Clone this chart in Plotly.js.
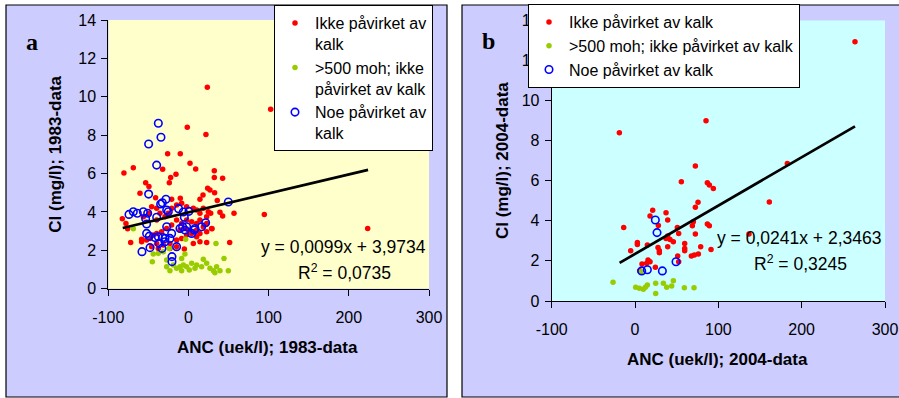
<!DOCTYPE html>
<html>
<head>
<meta charset="utf-8">
<script src="https://cdn.plot.ly/plotly-3.0.1.min.js"></script>
<style>html,body{margin:0;padding:0;background:#fff;}#chart{width:899px;height:398px;}</style>
</head>
<body>
<div id="chart"></div>
<script>
// ---------- Panel a (1983-data) ----------
var aRedX = [23.5,102.5,-1.5,21.8,-26,-10.2,-68.8,-80.5,-32.2,1.9,9,-15.6,32.2,32.2,42.6,-22.2,-53.4,-49.3,-23.9,23.9,26.8,32.6,-60.5,18.1,35.9,14.3,-41,-21,-10.2,39.3,42.6,56.8,94.6,223.5,51.4,-82.5,-78,-75.9,-72.1,-58.4,-5.2,22.7,29.3,
  -45.9,-39.7,-48.9,-56.3,-39.7,-35.6,-29.3,-25.2,-21,-14.8,-8.5,-2.3,6,10.2,14.3,18.5,24.7,27.7,22.7,14.3,10.2,4,-2.3,-8.5,-14.8,-21,-27.2,-33.5,-39.7,-43.9,-48,-52.2,-58.4,-39.7,-31.4,-23.1,-14.8,-8.5,-2.3,4,10.2,14.3,22.7,28.9,6,14.3,-14.8,-23.1,-37.6,-45.9,-10.6,-4.4,-0.2,22.7,18.5,10.2];
var aRedY = [10.49,9.35,8.41,8.04,7.03,7.03,6.3,6.03,6.22,6.53,6.24,5.96,6.15,5.8,5.75,5.8,5.52,5.32,5.52,5.23,5.14,5.0,4.97,4.88,4.59,4.66,4.74,4.66,4.71,3.98,3.79,3.93,3.86,3.14,2.41,3.65,3.4,3.13,2.41,2.57,2.07,2.41,3.13,
  4.27,4.19,3.93,3.75,3.58,3.93,3.75,3.93,4.19,4.36,4.45,4.27,4.19,4.1,3.93,4.19,4.01,3.93,3.75,3.58,3.4,3.49,3.58,3.4,3.58,3.32,3.14,2.97,2.88,2.8,2.62,2.54,2.45,2.36,2.28,2.36,2.54,2.62,2.8,2.88,2.71,2.88,2.97,3.14,2.36,2.45,2.19,2.1,2.1,2.19,3.06,3.14,3.06,3.4,3.23,3.06];
var aGreenX = [-68.8,-43.9,-37.6,-31.4,-45.1,-27.2,-23.1,-18.9,-14.8,-10.6,-8.5,-6.4,-2.3,-8.5,-4.4,-3.5,4,10.2,16.4,18.5,22.7,26.8,31,35.1,39.3,44.3,49.7,34.3,-24,33,-27.2,1,8.1];
var aGreenY = [3.13,1.81,1.84,1.93,1.41,1.15,0.94,1.23,1.06,1.15,0.94,1.23,1.15,1.58,1.81,2.57,1.32,1.23,1.15,1.53,1.32,1.06,0.94,1.15,0.94,1.58,0.94,2.36,2.1,0.83,1.49,0.97,1.06];
var aBlueX = [-37.6,-34.3,-49.7,-39.7,-49.7,49.7,-28.1,-34.7,-32.6,-27.2,-25.2,-39.7,-12.3,-6.4,0.6,-5.2,-74.2,-68.8,-63.8,-56.3,-50.9,-53.4,-52.2,-52.2,-48.9,-41.8,-37.6,-32.2,-29.3,-27.2,-36.4,-29.3,-33.1,-23.1,-21,-14.8,-20.6,-20.6,-58,-48,-10.6,-7.3,-4.4,-2.3,4,8.1,16.4,21.4,7.3];
var aBlueY = [8.62,7.89,7.54,6.44,4.93,4.52,4.66,4.41,4.48,4.1,4.01,3.72,4.17,4.0,4.03,3.72,3.87,4.01,3.93,4.01,3.93,3.65,3.37,2.88,2.74,2.67,2.71,2.67,2.62,3.23,2.36,2.45,2.1,2.62,2.88,2.19,1.67,1.41,1.93,2.14,3.14,3.23,3.06,3.23,2.88,3.14,3.23,3.44,3.06];
var aTrendX = [-82, 224];
var aTrendCoef = [0.0099, 3.9734];   // slope, intercept
var aEquation = "y = 0,0099x + 3,9734";
var aR2 = "R<sup>2</sup> = 0,0735";

// ---------- Panel b (2004-data) ----------
var bRedX = [264,-18.8,85.2,182.8,72.4,55.6,86.8,89.2,94,161.2,75.6,72.4,21.2,37.2,18,39.2,28,-13.6,70,68.8,86.8,89.2,50.8,52.4,72.4,136.8,37.2,42,39.2,46,2.8,2.8,14.8,27.6,39.2,59.6,59.6,59.6,78.8,91.2,-5.2,29.2,29.2,51.2,67.6,71.2,76,15.6,18,14,8.4,52.4,24.4,5.6];
var bRedY = [12.92,8.39,8.99,6.86,6.73,5.95,5.9,5.78,5.61,4.93,4.92,4.67,4.52,4.4,4.24,4.04,3.77,3.67,3.95,3.75,3.84,3.75,3.67,3.37,3.34,3.34,3.12,3.07,3.24,2.96,2.92,2.82,2.79,2.67,2.71,2.87,2.62,2.51,2.71,2.57,2.51,2.51,2.41,2.24,2.24,2.29,2.34,2.04,1.96,1.88,1.84,1.96,1.68,1.51];
var bGreenX = [-26.4,0.8,5.2,12.4,14.8,24.8,34,38,44,46,59.2,70.8,24.8,7.2,10];
var bGreenY = [0.93,0.68,0.63,0.68,0.8,0.88,0.88,0.68,0.75,1.01,0.66,0.66,0.38,1.46,0.58];
var bBlueX = [24.4,26.4,49.2,8,14.8,32.8];
var bBlueY = [4.04,3.41,1.96,1.5,1.56,1.5];
var bTrendX = [-18.5, 264];
var bTrendCoef = [0.0241, 2.3463];
var bEquation = "y = 0,0241x + 2,3463";
var bR2 = "R<sup>2</sup> = 0,3245";

// ---------- Labels ----------
var seriesNamesA = ["Ikke påvirket av<br>kalk", ">500 moh; ikke<br>påvirket av kalk", "Noe påvirket av<br>kalk"];
var seriesNamesB = ["Ikke påvirket av kalk", ">500 moh; ikke påvirket av kalk", "Noe påvirket av kalk"];
var xTitles = ["ANC (uek/l); 1983-data", "ANC (uek/l); 2004-data"];
var yTitles = ["Cl (mg/l); 1983-data", "Cl (mg/l); 2004-data"];
var panelLetters = ["a", "b"];
var xTicks = [-100, 0, 100, 200, 300];
var yTicks = [0, 2, 4, 6, 8, 10, 12, 14];

var FONT = "Arial, 'Liberation Sans', sans-serif";
var W = 899, H = 398;
function px(x){ return x / W; }
function py(y){ return 1 - y / H; }
function lineY(coef, xs){ return xs.map(function(x){ return coef[0]*x + coef[1]; }); }

var redM = {color:"#FF0000", size:5.5};
var greenM = {color:"#99CC00", size:5.5};
var blueM = {symbol:"circle-open", size:7.5, color:"#0000FF", line:{width:1.6}};

var traces = [
  {x:aRedX, y:aRedY, type:"scatter", mode:"markers", name:seriesNamesA[0], marker:redM, xaxis:"x", yaxis:"y", legend:"legend"},
  {x:aGreenX, y:aGreenY, type:"scatter", mode:"markers", name:seriesNamesA[1], marker:greenM, xaxis:"x", yaxis:"y", legend:"legend"},
  {x:aBlueX, y:aBlueY, type:"scatter", mode:"markers", name:seriesNamesA[2], marker:blueM, xaxis:"x", yaxis:"y", legend:"legend"},
  {x:aTrendX, y:lineY(aTrendCoef, aTrendX), type:"scatter", mode:"lines", line:{color:"#000", width:2.7}, showlegend:false, xaxis:"x", yaxis:"y", hoverinfo:"skip"},
  {x:bRedX, y:bRedY, type:"scatter", mode:"markers", name:seriesNamesB[0], marker:redM, xaxis:"x2", yaxis:"y2", legend:"legend2"},
  {x:bGreenX, y:bGreenY, type:"scatter", mode:"markers", name:seriesNamesB[1], marker:greenM, xaxis:"x2", yaxis:"y2", legend:"legend2"},
  {x:bBlueX, y:bBlueY, type:"scatter", mode:"markers", name:seriesNamesB[2], marker:blueM, xaxis:"x2", yaxis:"y2", legend:"legend2"},
  {x:bTrendX, y:lineY(bTrendCoef, bTrendX), type:"scatter", mode:"lines", line:{color:"#000", width:2.7}, showlegend:false, xaxis:"x2", yaxis:"y2", hoverinfo:"skip"}
];

function xAxis(domain, anchor){
  return {domain:domain, anchor:anchor, range:[-100,300], tickvals:xTicks, ticktext:xTicks.map(String),
    ticks:"outside", ticklen:6, tickcolor:"#000",
    showline:true, linecolor:"#000", linewidth:1, showgrid:false, zeroline:false, fixedrange:true,
    tickfont:{family:FONT, size:16, color:"#000"}, ticklabelstandoff:8};
}
function yAxis(domain, anchor, title, standoff){
  return {domain:domain, anchor:anchor, range:[0,14], tickvals:yTicks, ticktext:yTicks.map(String),
    ticks:"outside", ticklen:6, tickcolor:"#000",
    showline:true, linecolor:"#000", linewidth:1, showgrid:false, zeroline:false, fixedrange:true,
    tickfont:{family:FONT, size:16, color:"#000"}, ticklabelstandoff:2,
    title:{text:title, standoff:standoff, font:{family:FONT, size:17, color:"#000", weight:"bold"}}, automargin:false};
}

var ann = [
  {text:panelLetters[0], x:px(32), y:py(42), xref:"paper", yref:"paper", showarrow:false, font:{family:"'Times New Roman', 'Liberation Serif', serif", size:24, color:"#000", weight:"bold"}, xanchor:"center", yanchor:"middle"},
  {text:panelLetters[1], x:px(488.5), y:py(41), xref:"paper", yref:"paper", showarrow:false, font:{family:"'Times New Roman', 'Liberation Serif', serif", size:24, color:"#000", weight:"bold"}, xanchor:"center", yanchor:"middle"},
  {text:xTitles[0], x:px(267), y:py(347), xref:"paper", yref:"paper", showarrow:false, font:{family:FONT, size:17, color:"#000", weight:"bold"}, xanchor:"center", yanchor:"middle"},
  {text:xTitles[1], x:px(717), y:py(359), xref:"paper", yref:"paper", showarrow:false, font:{family:FONT, size:17, color:"#000", weight:"bold"}, xanchor:"center", yanchor:"middle"},
  {text:aEquation, x:px(428), y:py(247), xref:"paper", yref:"paper", showarrow:false, font:{family:FONT, size:17.5, color:"#000"}, xanchor:"right", yanchor:"middle"},
  {text:aR2, x:px(344), y:py(272), xref:"paper", yref:"paper", showarrow:false, font:{family:FONT, size:17.5, color:"#000"}, xanchor:"center", yanchor:"middle"},
  {text:bEquation, x:px(883), y:py(238), xref:"paper", yref:"paper", showarrow:false, font:{family:FONT, size:17.5, color:"#000"}, xanchor:"right", yanchor:"middle"},
  {text:bR2, x:px(800), y:py(263), xref:"paper", yref:"paper", showarrow:false, font:{family:FONT, size:17.5, color:"#000"}, xanchor:"center", yanchor:"middle"}
];

var shapes = [
  {type:"rect", xref:"paper", yref:"paper", x0:px(6), x1:px(447), y0:py(397), y1:py(5), fillcolor:"#CCCCFF", line:{color:"#000", width:1.2}, layer:"below"},
  {type:"rect", xref:"paper", yref:"paper", x0:px(462), x1:px(905), y0:py(397), y1:py(5), fillcolor:"#CCCCFF", line:{color:"#000", width:1.2}, layer:"below"},
  {type:"rect", xref:"x", yref:"y", x0:-100, x1:300, y0:0, y1:14, fillcolor:"#FFFFCC", line:{width:0}, layer:"below"},
  {type:"rect", xref:"x2", yref:"y2", x0:-100, x1:300, y0:0, y1:14, fillcolor:"#CCFFFF", line:{width:0}, layer:"below"}
];

var layout = {
  width:W, height:H, margin:{l:0, r:0, t:0, b:0},
  paper_bgcolor:"#FFFFFF", plot_bgcolor:"rgba(0,0,0,0)",
  font:{family:FONT, color:"#000"},
  xaxis: xAxis([px(108.3), px(429)], "y"),
  yaxis: yAxis([py(288.7), py(20)], "x", yTitles[0], 12),
  xaxis2: xAxis([px(551.7), px(885)], "y2"),
  yaxis2: yAxis([py(301), py(20.2)], "x2", yTitles[1], 8),
  legend:{x:px(274), y:py(5), xanchor:"left", yanchor:"top", bgcolor:"#FFFFFF", bordercolor:"#000", borderwidth:1,
    font:{family:FONT, size:16, color:"#000"}, valign:"top", tracegroupgap:0, itemwidth:30},
  legend2:{x:px(528), y:py(4), xanchor:"left", yanchor:"top", bgcolor:"#FFFFFF", bordercolor:"#000", borderwidth:1,
    font:{family:FONT, size:16, color:"#000"}, valign:"top", tracegroupgap:0, itemwidth:30},
  annotations: ann,
  shapes: shapes,
  showlegend:true
};

Plotly.newPlot("chart", traces, layout, {displayModeBar:false, staticPlot:true});
</script>
</body>
</html>
